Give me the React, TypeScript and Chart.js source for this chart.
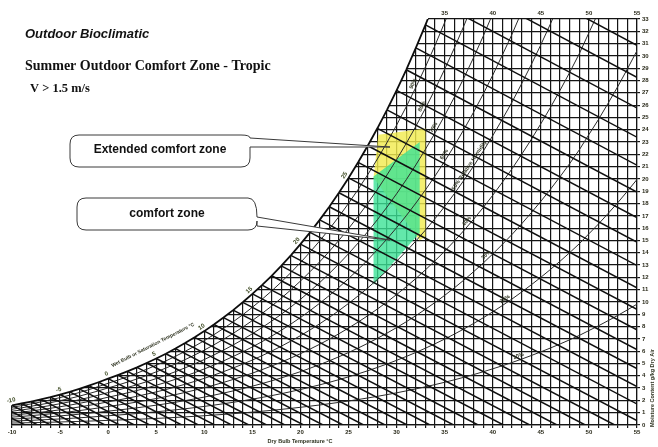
import React, { useEffect, useRef } from "react";
import { Chart, registerables } from "chart.js";

Chart.register(...registerables);

// ---------- data ----------
const ATM_KPA = 101.325;
const tableTemps = [
  -14, -13, -12, -11, -10, -9, -8, -7, -6, -5, -4, -3, -2, -1, 0, 1, 2, 3, 4, 5, 6, 7, 8, 9, 10,
  11, 12, 13, 14, 15, 16, 17, 18, 19, 20, 21, 22, 23, 24, 25, 26, 27, 28, 29, 30, 31, 32, 33, 34,
  35, 36, 37, 38, 39, 40, 41, 42, 43, 44, 45, 46, 47, 48, 49, 50, 51, 52, 53, 54, 55,
];
// saturation vapour pressure, kPa
const satPressureKPa = [
  0.181, 0.198, 0.217, 0.238, 0.26, 0.284, 0.31, 0.338, 0.368, 0.402, 0.437, 0.476, 0.518, 0.563,
  0.611, 0.657, 0.706, 0.758, 0.814, 0.873, 0.935, 1.002, 1.073, 1.148, 1.228, 1.313, 1.403, 1.498,
  1.599, 1.706, 1.819, 1.938, 2.064, 2.198, 2.339, 2.488, 2.645, 2.81, 2.985, 3.169, 3.363, 3.567,
  3.782, 4.008, 4.246, 4.495, 4.758, 5.034, 5.323, 5.627, 5.945, 6.28, 6.63, 6.997, 7.384, 7.788,
  8.205, 8.65, 9.112, 9.593, 10.094, 10.615, 11.158, 11.723, 12.352, 12.97, 13.631, 14.303, 15.017,
  15.752,
];
const dryBulbMin = -10;
const dryBulbMax = 55;
const moistureMin = 0;
const moistureMax = 33;
const wetBulbTemps = [
  -14, -13, -12, -11, -10, -9, -8, -7, -6, -5, -4, -3, -2, -1, 0, 1, 2, 3, 4, 5, 6, 7, 8, 9, 10,
  11, 12, 13, 14, 15, 16, 17, 18, 19, 20, 21, 22, 23, 24, 25, 26, 27, 28, 29, 30, 31, 32, 33, 34,
  35, 36,
];
const rhLevels = [10, 20, 30, 40, 50, 60, 70, 80, 90];
const rhLabelTemps = [42.8, 41.5, 39.6, 37.6, 37.9, 35.3, 34.2, 33.0, 32.1];
const rhLabelTexts = ["10%", "20%", "30%", "40%", "50% Relative Humidity", "60%", "70%", "80%", "90%"];
const wetBulbLabelTemps = [-10, -5, 0, 5, 10, 15, 20, 25];
const comfortZoneT = [27.6, 27.6, 32.4, 32.4];
const comfortZoneW = [11.4, 20.2, 23.0, 15.6];
const extendedZoneT = [27.6, 28.1, 33.0, 33.0, 32.4];
const extendedZoneW = [20.1, 23.6, 24.1, 15.3, 15.0];

// ---------- psychrometric helpers (from the table) ----------
function psat(t: number): number {
  let i = Math.floor(t - tableTemps[0]);
  i = Math.max(0, Math.min(tableTemps.length - 2, i));
  const f = (t - tableTemps[i]) / (tableTemps[i + 1] - tableTemps[i]);
  return Math.exp(Math.log(satPressureKPa[i]) * (1 - f) + Math.log(satPressureKPa[i + 1]) * f);
}
function moisture(t: number, rh: number): number {
  const pv = rh * psat(t);
  return (622 * pv) / (ATM_KPA - pv);
}

const FONT = '"Liberation Sans", Arial, sans-serif';

function drawRot(ctx: CanvasRenderingContext2D, text: string, x: number, y: number, ang: number, font: string, color: string) {
  ctx.save();
  ctx.translate(x, y);
  ctx.rotate(ang);
  ctx.font = font;
  ctx.fillStyle = color;
  ctx.textAlign = "center";
  ctx.textBaseline = "middle";
  ctx.fillText(text, 0, 0);
  ctx.restore();
}

function callout(
  ctx: CanvasRenderingContext2D, x0: number, y0: number, x1: number, y1: number,
  ta: number, tb: number, tipX: number, tipY: number, text: string, ty: number,
) {
  const r = 9;
  ctx.save();
  ctx.beginPath();
  ctx.moveTo(x0 + r, y0);
  ctx.lineTo(x1 - r, y0);
  ctx.quadraticCurveTo(x1, y0, x1, y0 + ta);
  ctx.lineTo(tipX, tipY);
  ctx.lineTo(x1, y0 + tb);
  ctx.lineTo(x1, y1 - r);
  ctx.quadraticCurveTo(x1, y1, x1 - r, y1);
  ctx.lineTo(x0 + r, y1);
  ctx.quadraticCurveTo(x0, y1, x0, y1 - r);
  ctx.lineTo(x0, y0 + r);
  ctx.quadraticCurveTo(x0, y0, x0 + r, y0);
  ctx.closePath();
  ctx.fillStyle = "#ffffff";
  ctx.fill();
  ctx.strokeStyle = "#3a3a3a";
  ctx.lineWidth = 1;
  ctx.stroke();
  ctx.font = `bold 12px ${FONT}`;
  ctx.fillStyle = "#111";
  ctx.textAlign = "center";
  ctx.textBaseline = "alphabetic";
  ctx.fillText(text, (x0 + x1) / 2, ty);
  ctx.restore();
}

const overlayPlugin = {
  id: "overlay",
  beforeDatasetDraw(chart: any, args: any) {
    if (args.index !== 0) return;
    // white mask above the saturation curve (hides grid beyond the curve)
    const ctx: CanvasRenderingContext2D = chart.ctx;
    const xs = chart.scales.x;
    const ys = chart.scales.y;
    const all = chart.data.datasets[0].data as { x: number; y: number }[];
    const pts: { x: number; y: number }[] = [];
    for (const p of all) {
      pts.push(p);
      if (p.y > moistureMax) break;
    }
    const { left, top } = chart.chartArea;
    ctx.save();
    ctx.beginPath();
    pts.forEach((p, i) => {
      const px = xs.getPixelForValue(p.x);
      const py = ys.getPixelForValue(p.y);
      if (i === 0) ctx.moveTo(px, py);
      else ctx.lineTo(px, py);
    });
    const last = pts[pts.length - 1];
    ctx.lineTo(xs.getPixelForValue(last.x), top - 2);
    ctx.lineTo(left - 3, top - 2);
    ctx.lineTo(left - 3, ys.getPixelForValue(pts[0].y));
    ctx.closePath();
    ctx.fillStyle = "#ffffff";
    ctx.fill();
    ctx.restore();
  },
  afterDraw(chart: any) {
    const ctx: CanvasRenderingContext2D = chart.ctx;
    const xs = chart.scales.x;
    const ys = chart.scales.y;
    ctx.save();
    // titles
    ctx.fillStyle = "#111";
    ctx.textAlign = "left";
    ctx.textBaseline = "alphabetic";
    ctx.font = `italic bold 13px ${FONT}`;
    ctx.fillText("Outdoor Bioclimatic", 25, 38);
    ctx.font = 'bold 14px "Liberation Serif", "Times New Roman", serif';
    ctx.fillText("Summer Outdoor Comfort Zone - Tropic", 25, 70);
    ctx.font = 'bold 12.5px "Liberation Serif", "Times New Roman", serif';
    ctx.fillText("V > 1.5 m/s", 30, 92);

    // wet bulb labels along saturation curve
    for (const t of wetBulbLabelTemps) {
      const px = xs.getPixelForValue(t);
      const py = ys.getPixelForValue(moisture(t, 1));
      const dx = xs.getPixelForValue(t + 0.5) - xs.getPixelForValue(t - 0.5);
      const dy = ys.getPixelForValue(moisture(t + 0.5, 1)) - ys.getPixelForValue(moisture(t - 0.5, 1));
      const len = Math.hypot(dx, dy);
      const nx = dy / len, ny = -dx / len;
      drawRot(ctx, String(t), px + nx * 5, py + ny * 5, Math.atan2(dy, dx), `bold 6px ${FONT}`, "#3d4a22");
    }
    // RH labels
    rhLevels.forEach((rh, i) => {
      const t = rhLabelTemps[i];
      const f = rh / 100;
      const px = xs.getPixelForValue(t);
      const py = ys.getPixelForValue(moisture(t, f));
      const dx = xs.getPixelForValue(t + 0.5) - xs.getPixelForValue(t - 0.5);
      const dy = ys.getPixelForValue(moisture(t + 0.5, f)) - ys.getPixelForValue(moisture(t - 0.5, f));
      const len = Math.hypot(dx, dy);
      const nx = dy / len, ny = -dx / len;
      drawRot(ctx, rhLabelTexts[i], px + nx * 4, py + ny * 4, Math.atan2(dy, dx), `bold 5.5px ${FONT}`, "#2e3320");
    });
    // axis titles
    drawRot(ctx, "Wet Bulb or Saturation Temperature °C", 153, 345, (-27 * Math.PI) / 180, `bold 5px ${FONT}`, "#2e3320");
    drawRot(ctx, "Dry Bulb Temperature °C", 300, 441, 0, `bold 5.5px ${FONT}`, "#2e3320");
    drawRot(ctx, "Moisture Content g/kg Dry Air", 652, 388, -Math.PI / 2, `bold 5.5px ${FONT}`, "#2e3320");

    // callouts
    callout(ctx, 70, 135, 250, 167, 3, 12, 390, 147, "Extended comfort zone", 153);
    callout(ctx, 77, 198, 257, 230, 19, 28, 390, 240, "comfort zone", 217);
    ctx.restore();
  },
};

export default function App() {
  const ref = useRef<HTMLCanvasElement>(null);
  useEffect(() => {
    const satTemps = tableTemps.filter((t) => t >= dryBulbMin && t <= 36);
    const datasets: any[] = [];
    // saturation curve
    datasets.push({
      data: satTemps.map((t) => ({ x: t, y: moisture(t, 1) })),
      showLine: true,
      borderColor: "#0d0d0d",
      borderWidth: 1.8,
      fill: false,
      pointRadius: 0,
      order: 20,
    });
    // zones
    const extPts = extendedZoneT.map((t, i) => ({ x: t, y: extendedZoneW[i] }));
    extPts.push(extPts[0]);
    datasets.push({
      data: extPts, showLine: true, borderWidth: 0, borderColor: "rgba(0,0,0,0)",
      backgroundColor: "rgba(242,236,80,0.82)", fill: "shape", pointRadius: 0, order: 15,
    });
    const cPts = comfortZoneT.map((t, i) => ({ x: t, y: comfortZoneW[i] }));
    cPts.push(cPts[0]);
    datasets.push({
      data: cPts, showLine: true, borderWidth: 0, borderColor: "rgba(0,0,0,0)",
      backgroundColor: "rgba(60,226,150,0.8)", fill: "shape", pointRadius: 0, order: 14,
    });
    // RH curves
    const rhTemps = tableTemps.filter((t) => t >= dryBulbMin);
    for (const rh of rhLevels) {
      datasets.push({
        data: rhTemps.map((t) => ({ x: t, y: moisture(t, rh / 100) })),
        showLine: true, borderColor: "#2a2a2a", borderWidth: 1, fill: false, pointRadius: 0, order: 10,
      });
    }
    // wet bulb lines
    for (const tw of wetBulbTemps) {
      const ws = moisture(tw, 1);
      const tEnd = tw + ((2501 - 2.326 * tw) * ws) / 1006;
      datasets.push({
        data: [{ x: tw, y: ws }, { x: tEnd, y: 0 }],
        showLine: true, borderColor: "#101010", borderWidth: 1.5, fill: false, pointRadius: 0, order: 5,
      });
    }

    const tickFont = { size: 6, weight: "bold" as const, family: FONT };
    const chart = new Chart(ref.current as HTMLCanvasElement, {
      type: "scatter",
      data: { datasets },
      options: {
        animation: false,
        responsive: false,
        events: [],
        layout: { padding: { left: 12, right: 0, top: 0, bottom: 0 } },
        plugins: { legend: { display: false }, tooltip: { enabled: false }, title: { display: false } },
        elements: { point: { radius: 0 }, line: { tension: 0 } },
        scales: {
          x: {
            type: "linear", position: "bottom", min: dryBulbMin, max: dryBulbMax,
            ticks: {
              stepSize: 1, autoSkip: false, maxRotation: 0, padding: 1, font: tickFont, color: "#2a2a1a",
              callback: (v: any) => (Number(v) % 5 === 0 ? String(v) : ""),
            },
            grid: { color: "#141414", lineWidth: 1.2, tickLength: 3 },
            border: { display: true, color: "#141414", width: 1.2 },
            afterFit: (s: any) => { s.height = 22; },
          },
          x2: {
            type: "linear", position: "top", min: dryBulbMin, max: dryBulbMax,
            ticks: {
              stepSize: 5, autoSkip: false, maxRotation: 0, padding: 2, font: tickFont, color: "#2a2a1a",
              callback: (v: any) => (Number(v) >= 35 ? String(v) : ""),
            },
            grid: { display: false, drawTicks: false },
            border: { display: false },
            afterFit: (s: any) => { s.height = 19; },
          },
          y: {
            type: "linear", position: "right", min: moistureMin, max: moistureMax,
            ticks: { stepSize: 1, autoSkip: false, padding: 2, font: tickFont, color: "#2a2a1a" },
            grid: { color: "#141414", lineWidth: 1.2, tickLength: 3 },
            border: { display: true, color: "#141414", width: 1.2 },
            afterFit: (s: any) => { s.width = 21; },
          },
        },
      } as any,
      plugins: [overlayPlugin],
    });
    return () => chart.destroy();
  }, []);
  return (
    <div style={{ position: "absolute", left: 0, top: 0, width: 658, height: 447, background: "#fff" }}>
      <canvas ref={ref} width={658} height={447} style={{ display: "block", width: 658, height: 447 }} />
    </div>
  );
}
